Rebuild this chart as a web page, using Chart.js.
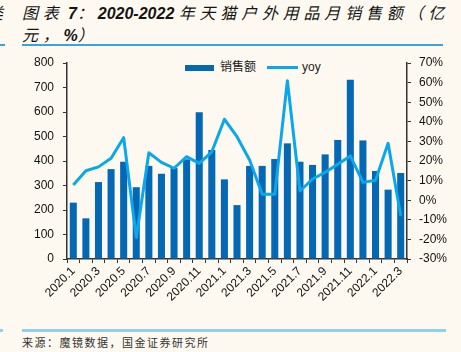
<!DOCTYPE html>
<html>
<head>
<meta charset="utf-8">
<script src="https://cdn.jsdelivr.net/npm/chart.js@4"></script>
<style>
  html, body { margin: 0; padding: 0; background: #fdf9f0; }
  body { width: 461px; height: 352px; position: relative; overflow: hidden; font-family: "Liberation Sans", Arial, sans-serif; }
  .title { position: absolute; left: 22px; top: 2px; font-size: 16px; line-height: 20px; font-weight: bold; font-style: italic; color: #141414; white-space: nowrap; }
  .cjk { font-family: "Noto Sans CJK SC", sans-serif; letter-spacing: 4.8px; font-weight: 400; }
  .rule { position: absolute; height: 2px; background: #3aa3dc; }
  .source { position: absolute; left: 22px; top: 334px; font-size: 11px; color: #333; font-family: "Noto Sans CJK SC", sans-serif; letter-spacing: 1.5px; }
  .legend { position: absolute; top: 57px; font-size: 12px; color: #222; font-family: "Noto Sans CJK SC", sans-serif; }
  #chart { position: absolute; left: 0; top: 0; }
</style>
</head>
<body>
<div class="title" style="left:-13px;"><span class="cjk">类</span></div>
<div class="title"><span class="cjk">图表</span> 7<span class="cjk">：</span>2020-2022 <span class="cjk">年天猫户外用品月销售额（亿</span><br><span class="cjk">元，</span>%<span class="cjk">）</span></div>
<div class="rule" style="left:0;width:5px;top:44px;"></div>
<div class="rule" style="left:22px;width:421px;top:44px;"></div>
<div class="rule" style="left:0;width:3px;top:329px;background:#8fd0ee;height:3px;"></div>
<div class="rule" style="left:22px;width:424px;top:329px;background:#8fd0ee;height:3px;"></div>
<div class="source">来源：魔镜数据，国金证券研究所</div>

<div class="legend" style="left:185px;"><span style="display:inline-block;width:29px;height:6px;background:#0568b5;vertical-align:middle;margin-right:6px;"></span>销售额</div>
<div class="legend" style="left:267px;"><span style="display:inline-block;width:31px;height:3px;background:#0aa8ea;vertical-align:middle;margin-right:4px;"></span><span style="font-family:'Liberation Sans',Arial,sans-serif;">yoy</span></div>

<canvas id="chart" width="461" height="352"></canvas>

<script>
// months 2020.1 - 2022.3
const months = [
  "2020.1", "2020.2", "2020.3", "2020.4", "2020.5", "2020.6", "2020.7", "2020.8", "2020.9",
  "2020.10", "2020.11", "2020.12", "2021.1", "2021.2", "2021.3", "2021.4", "2021.5", "2021.6",
  "2021.7", "2021.8", "2021.9", "2021.10", "2021.11", "2021.12", "2022.1", "2022.2", "2022.3"
];
// sales, 亿元
const sales = [
  230, 166, 314, 367, 397, 293, 380, 348, 371,
  407, 599, 445, 325, 220, 380, 380, 408, 472,
  397, 384, 427, 486, 732, 484, 359, 283, 351
];
// yoy, %
const yoy = [
  7.8, 15, 17, 21.4, 31.9, -19, 24.2, 19.3, 16.3,
  22.2, 18.8, 24.7, 41.3, 32.4, 20.5, 3, 3, 61,
  4.7, 10.8, 14.2, 18.3, 22.6, 9.1, 10.2, 29, -7.9
];
const leftTicks = [0, 100, 200, 300, 400, 500, 600, 700, 800];
const rightTicks = [-30, -20, -10, 0, 10, 20, 30, 40, 50, 60, 70];

const axisColor = "#333";
const tickFont = { family: "'Liberation Sans', Arial, sans-serif", size: 12 };

new Chart(document.getElementById("chart").getContext("2d"), {
  type: "bar",
  data: {
    labels: months,
    datasets: [
      {
        type: "line",
        label: "yoy",
        data: yoy,
        yAxisID: "y1",
        borderColor: "#0aa8ea",
        borderWidth: 3,
        borderJoinStyle: "round",
        pointRadius: 0,
        tension: 0,
        order: 0
      },
      {
        type: "bar",
        label: "销售额",
        data: sales,
        yAxisID: "y",
        backgroundColor: "#0568b5",
        barPercentage: 0.56,
        categoryPercentage: 1,
        order: 1
      }
    ]
  },
  options: {
    responsive: false,
    animation: false,
    layout: { padding: { top: 63, left: 0, right: 0, bottom: 0 } },
    plugins: { legend: { display: false }, tooltip: { enabled: false } },
    scales: {
      x: {
        offset: true,
        grid: { offset: true, drawOnChartArea: false, tickLength: 4, color: axisColor },
        border: { color: axisColor, width: 1.5 },
        ticks: {
          autoSkip: false,
          minRotation: 45,
          maxRotation: 45,
          padding: 1,
          color: "#111",
          font: tickFont,
          callback: (v, i) => (i % 2 === 0 ? months[i] : "")
        },
        afterFit: s => { s.height = 93; }
      },
      y: {
        position: "left",
        min: 0,
        max: 800,
        afterBuildTicks: s => { s.ticks = leftTicks.map(v => ({ value: v })); },
        grid: { drawOnChartArea: false, tickLength: 4, color: axisColor },
        border: { color: axisColor, width: 1.5 },
        ticks: { padding: 9, color: "#111", font: tickFont },
        afterFit: s => { s.width = 67; }
      },
      y1: {
        position: "right",
        min: -30,
        max: 70,
        afterBuildTicks: s => { s.ticks = rightTicks.map(v => ({ value: v })); },
        grid: { drawOnChartArea: false, tickLength: 4, color: axisColor },
        border: { color: axisColor, width: 1.5 },
        ticks: { padding: 8, color: "#111", font: tickFont, callback: v => v + "%" },
        afterFit: s => { s.width = 54; }
      }
    }
  }
});
</script>
</body>
</html>
